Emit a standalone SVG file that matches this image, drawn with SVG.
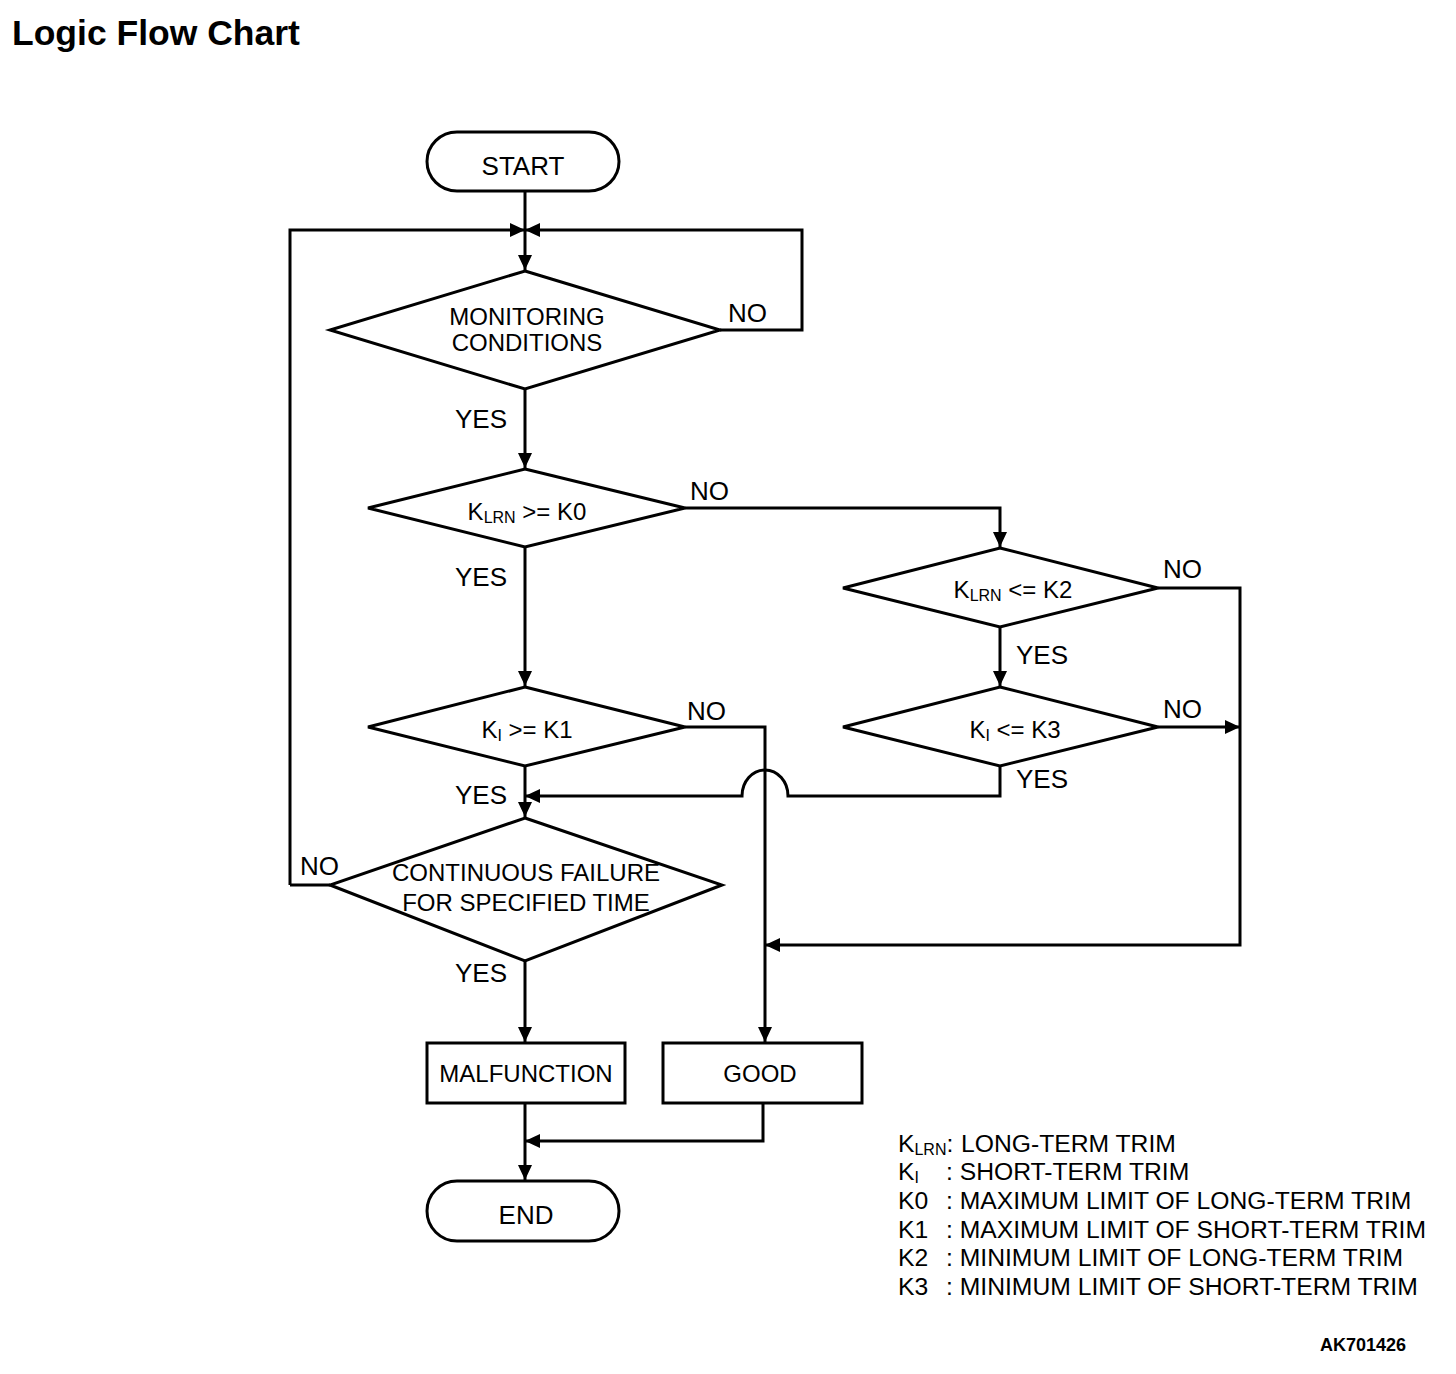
<svg xmlns="http://www.w3.org/2000/svg" width="1456" height="1374" viewBox="0 0 1456 1374">
<style>
text{font-family:"Liberation Sans",Arial,sans-serif;fill:#000}
.shape{fill:#fff;stroke:#000;stroke-width:3}
.ln{fill:none;stroke:#000;stroke-width:3}
.t24{font-size:24px}
.t26{font-size:26px}
.lg{font-size:24.7px}
.lab{font-size:26px}
.sub{font-size:16px}
</style>
<defs>
<marker id="ah" markerUnits="userSpaceOnUse" markerWidth="16" markerHeight="14" refX="15" refY="7" orient="auto">
<path d="M0,0 L15,7 L0,14 Z" fill="#000"/>
</marker>
</defs>
<rect width="1456" height="1374" fill="#fff"/>
<text x="12" y="45" font-size="35.5" font-weight="bold">Logic Flow Chart</text>

<g id="connectors">
<path class="ln" d="M525,191 L525,270" marker-end="url(#ah)"/>
<path class="ln" d="M290,885 L290,230 L525,230" marker-end="url(#ah)"/>
<path class="ln" d="M720,330 L802,330 L802,230 L525,230" marker-end="url(#ah)"/>
<path class="ln" d="M525,389 L525,468" marker-end="url(#ah)"/>
<path class="ln" d="M290,885 L330,885"/>
<path class="ln" d="M685,508 L1000,508 L1000,547" marker-end="url(#ah)"/>
<path class="ln" d="M525,547 L525,686" marker-end="url(#ah)"/>
<path class="ln" d="M1000,627 L1000,686" marker-end="url(#ah)"/>
<path class="ln" d="M1158,588 L1240,588 L1240,945 L765,945" marker-end="url(#ah)"/>
<path class="ln" d="M1158,727 L1240,727" marker-end="url(#ah)"/>
<path class="ln" d="M685,727 L765,727 L765,1042" marker-end="url(#ah)"/>
<path class="ln" d="M1000,766 L1000,796 L788,796 A23,26 0 0 0 742,796 L525,796" marker-end="url(#ah)"/>
<path class="ln" d="M525,766 L525,817" marker-end="url(#ah)"/>
<path class="ln" d="M525,961 L525,1042" marker-end="url(#ah)"/>
<path class="ln" d="M763,1103 L763,1141 L525,1141" marker-end="url(#ah)"/>
<path class="ln" d="M525,1103 L525,1180" marker-end="url(#ah)"/>
</g>

<g id="start">
<rect class="shape" x="427" y="132" width="192" height="59" rx="30" ry="30"/>
<text class="t26" x="523" y="175" text-anchor="middle">START</text>
</g>

<g id="monitoring">
<polygon class="shape" points="525,271 720,330 525,389 330,330"/>
<text class="t24" x="527" y="325" text-anchor="middle">MONITORING</text>
<text class="t24" x="527" y="351" text-anchor="middle">CONDITIONS</text>
</g>

<g id="klrn-k0">
<polygon class="shape" points="525,469 685,508 525,547 368,508"/>
<text class="t24" x="527" y="520" text-anchor="middle">K<tspan class="sub" dy="3">LRN</tspan><tspan dy="-3"> &gt;= K0</tspan></text>
</g>

<g id="klrn-k2">
<polygon class="shape" points="1000,548 1158,588 1000,627 843,588"/>
<text class="t24" x="1013" y="598" text-anchor="middle">K<tspan class="sub" dy="3">LRN</tspan><tspan dy="-3"> &lt;= K2</tspan></text>
</g>

<g id="ki-k1">
<polygon class="shape" points="525,687 685,727 525,766 368,727"/>
<text class="t24" x="527" y="738" text-anchor="middle">K<tspan class="sub" dy="3">I</tspan><tspan dy="-3"> &gt;= K1</tspan></text>
</g>

<g id="ki-k3">
<polygon class="shape" points="1000,687 1158,727 1000,766 843,727"/>
<text class="t24" x="1015" y="738" text-anchor="middle">K<tspan class="sub" dy="3">I</tspan><tspan dy="-3"> &lt;= K3</tspan></text>
</g>

<g id="continuous">
<polygon class="shape" points="525,818 722,885 525,961 330,885"/>
<text class="t24" x="526" y="881" text-anchor="middle">CONTINUOUS FAILURE</text>
<text class="t24" x="526" y="911" text-anchor="middle">FOR SPECIFIED TIME</text>
</g>

<g id="malfunction">
<rect class="shape" x="427" y="1043" width="198" height="60"/>
<text class="t24" x="526" y="1082" text-anchor="middle">MALFUNCTION</text>
</g>

<g id="good">
<rect class="shape" x="663" y="1043" width="199" height="60"/>
<text class="t24" x="760" y="1082" text-anchor="middle">GOOD</text>
</g>

<g id="end">
<rect class="shape" x="427" y="1181" width="192" height="60" rx="30" ry="30"/>
<text class="t26" x="526" y="1224" text-anchor="middle">END</text>
</g>

<g id="labels">
<text class="lab" x="728" y="322">NO</text>
<text class="lab" x="455" y="428">YES</text>
<text class="lab" x="690" y="500">NO</text>
<text class="lab" x="455" y="586">YES</text>
<text class="lab" x="1163" y="578">NO</text>
<text class="lab" x="1016" y="664">YES</text>
<text class="lab" x="687" y="720">NO</text>
<text class="lab" x="1163" y="718">NO</text>
<text class="lab" x="1016" y="788">YES</text>
<text class="lab" x="455" y="804">YES</text>
<text class="lab" x="300" y="875">NO</text>
<text class="lab" x="455" y="982">YES</text>
</g>

<g id="legend">
<text class="lg" x="898" y="1152">K<tspan class="sub" dy="3">LRN</tspan><tspan dy="-3">:</tspan></text>
<text class="lg" x="961" y="1152">LONG-TERM TRIM</text>
<text class="lg" x="898" y="1180">K<tspan class="sub" dy="3">I</tspan></text>
<text class="lg" x="946" y="1180">: SHORT-TERM TRIM</text>
<text class="lg" x="898" y="1209">K0</text>
<text class="lg" x="946" y="1209">: MAXIMUM LIMIT OF LONG-TERM TRIM</text>
<text class="lg" x="898" y="1238">K1</text>
<text class="lg" x="946" y="1238">: MAXIMUM LIMIT OF SHORT-TERM TRIM</text>
<text class="lg" x="898" y="1266">K2</text>
<text class="lg" x="946" y="1266">: MINIMUM LIMIT OF LONG-TERM TRIM</text>
<text class="lg" x="898" y="1295">K3</text>
<text class="lg" x="946" y="1295">: MINIMUM LIMIT OF SHORT-TERM TRIM</text>
</g>

<text x="1320" y="1351" font-size="18" font-weight="bold">AK701426</text>
</svg>
